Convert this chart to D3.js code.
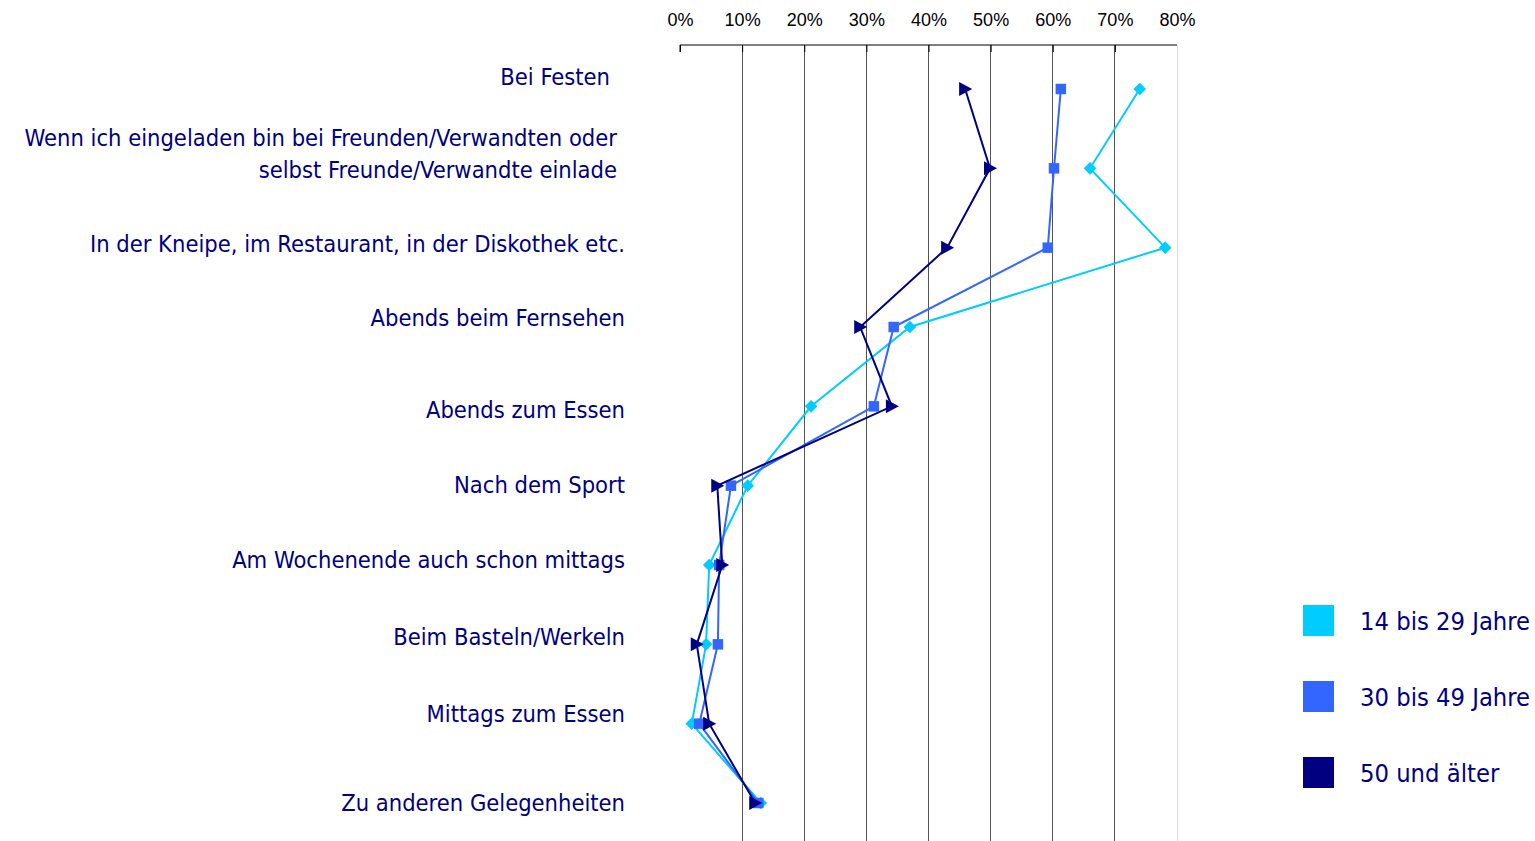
<!DOCTYPE html>
<html><head><meta charset="utf-8">
<script src="https://cdn.jsdelivr.net/npm/d3@7"></script>
<style>html,body{margin:0;padding:0;background:#fff;}svg{display:block;}</style>
</head><body>
<svg id="c" width="1535" height="841"></svg>
<script>
const categories = [
  ["Bei Festen"],
  ["Wenn ich eingeladen bin bei Freunden/Verwandten oder", "selbst Freunde/Verwandte einlade"],
  ["In der Kneipe, im Restaurant, in der Diskothek etc."],
  ["Abends beim Fernsehen"],
  ["Abends zum Essen"],
  ["Nach dem Sport"],
  ["Am Wochenende auch schon mittags"],
  ["Beim Basteln/Werkeln"],
  ["Mittags zum Essen"],
  ["Zu anderen Gelegenheiten"]
];
const seriesNames = ["14 bis 29 Jahre", "30 bis 49 Jahre", "50 und älter"];
const young = [74.0, 66.0, 78.1, 37.0, 21.1, 10.9, 4.7, 4.2, 1.9, 13.0];
const middle = [61.3, 60.2, 59.2, 34.4, 31.2, 8.2, 6.3, 6.1, 3.1, 12.6];
const old = [45.9, 49.9, 43.0, 29.0, 34.1, 6.0, 6.8, 2.7, 4.7, 12.1];
const tickValues = [0, 10, 20, 30, 40, 50, 60, 70, 80];

const colors = ["#00CCFF", "#3366FF", "#000080"];
const shapes = ["diamond", "square", "triangle"];
const series = [young, middle, old];

const svg = d3.select("#c");
const x = d3.scaleLinear().domain([0, 80]).range([680, 1177]);
const idx = d3.range(categories.length);
const y = d3.scalePoint().domain(idx).range([89, 803]);

// gridlines
svg.append("g").selectAll("line").data(tickValues.filter(d => d > 0)).join("line")
  .attr("x1", d => x(d)).attr("x2", d => x(d))
  .attr("y1", 45).attr("y2", 841)
  .attr("stroke", d => d === 80 ? "#d8d8d8" : "#555").attr("stroke-width", 1)
  .attr("shape-rendering", "crispEdges");

// top axis
const ax = svg.append("g").attr("transform", "translate(0,45)")
  .call(d3.axisTop(x).tickValues(tickValues).tickFormat(d => d + "%").tickSize(-7).tickPadding(19));
ax.select(".domain").attr("stroke", "#000").attr("d", `M${x(0)},7V0H${x(80)}`);
ax.selectAll(".tick line").attr("stroke", d => d === 80 ? "#d8d8d8" : "#000");
ax.selectAll("text").attr("font-family", "Liberation Sans, Arial, sans-serif").attr("font-size", 18).attr("fill", "#000");

// category labels
const labelDx = [-15, -8, 0, 0, 0, 0, 0, 0, 0, 0];
const labelDy = [-12, -15, -4, -9, 3, -1, -5, -8, -10, 0];
const lab = svg.append("g").attr("font-family", "DejaVu Sans Condensed, sans-serif").attr("font-size", 23.5).attr("fill", "#000080");
categories.forEach((lines, i) => {
  const t = lab.append("text").attr("text-anchor", "end").attr("x", 625 + labelDx[i]);
  const n = lines.length;
  lines.forEach((ln, j) => {
    t.append("tspan").attr("x", 625 + labelDx[i])
      .attr("y", y(i) + labelDy[i] + (j - (n - 1) / 2) * 32).attr("dy", "0.35em").text(ln);
  });
});

// lines and markers
const line = d3.line().x(d => x(d[1])).y(d => y(d[0]));
const sym = {
  diamond: d3.symbol().type(d3.symbolSquare).size(80),
  square: d3.symbol().type(d3.symbolSquare).size(110),
};
series.forEach((vals, s) => {
  const g = svg.append("g");
  const pts = vals.map((v, i) => [i, v]);
  g.append("path").attr("d", line(pts)).attr("fill", "none")
    .attr("stroke", colors[s]).attr("stroke-width", 2);
  const m = g.selectAll(".m").data(pts).join("path")
    .attr("fill", colors[s]);
  if (shapes[s] === "diamond") {
    m.attr("d", sym.diamond()).attr("transform", d => `translate(${x(d[1])},${y(d[0])}) rotate(45)`);
  } else if (shapes[s] === "square") {
    m.attr("d", sym.square()).attr("transform", d => `translate(${x(d[1])},${y(d[0])})`);
  } else {
    m.attr("d", "M-6,-7L7,0L-6,7Z").attr("transform", d => `translate(${x(d[1])},${y(d[0])})`);
  }
});

// legend
const leg = svg.append("g");
seriesNames.forEach((name, i) => {
  const ly = 605 + i * 76;
  leg.append("rect").attr("x", 1303).attr("y", ly).attr("width", 31).attr("height", 31).attr("fill", colors[i]);
  leg.append("text").attr("x", 1360).attr("y", ly + 16).attr("dy", "0.35em")
    .attr("font-family", "DejaVu Sans Condensed, sans-serif").attr("font-size", 25.3).attr("fill", "#000080").text(name);
});
</script>
</body></html>
